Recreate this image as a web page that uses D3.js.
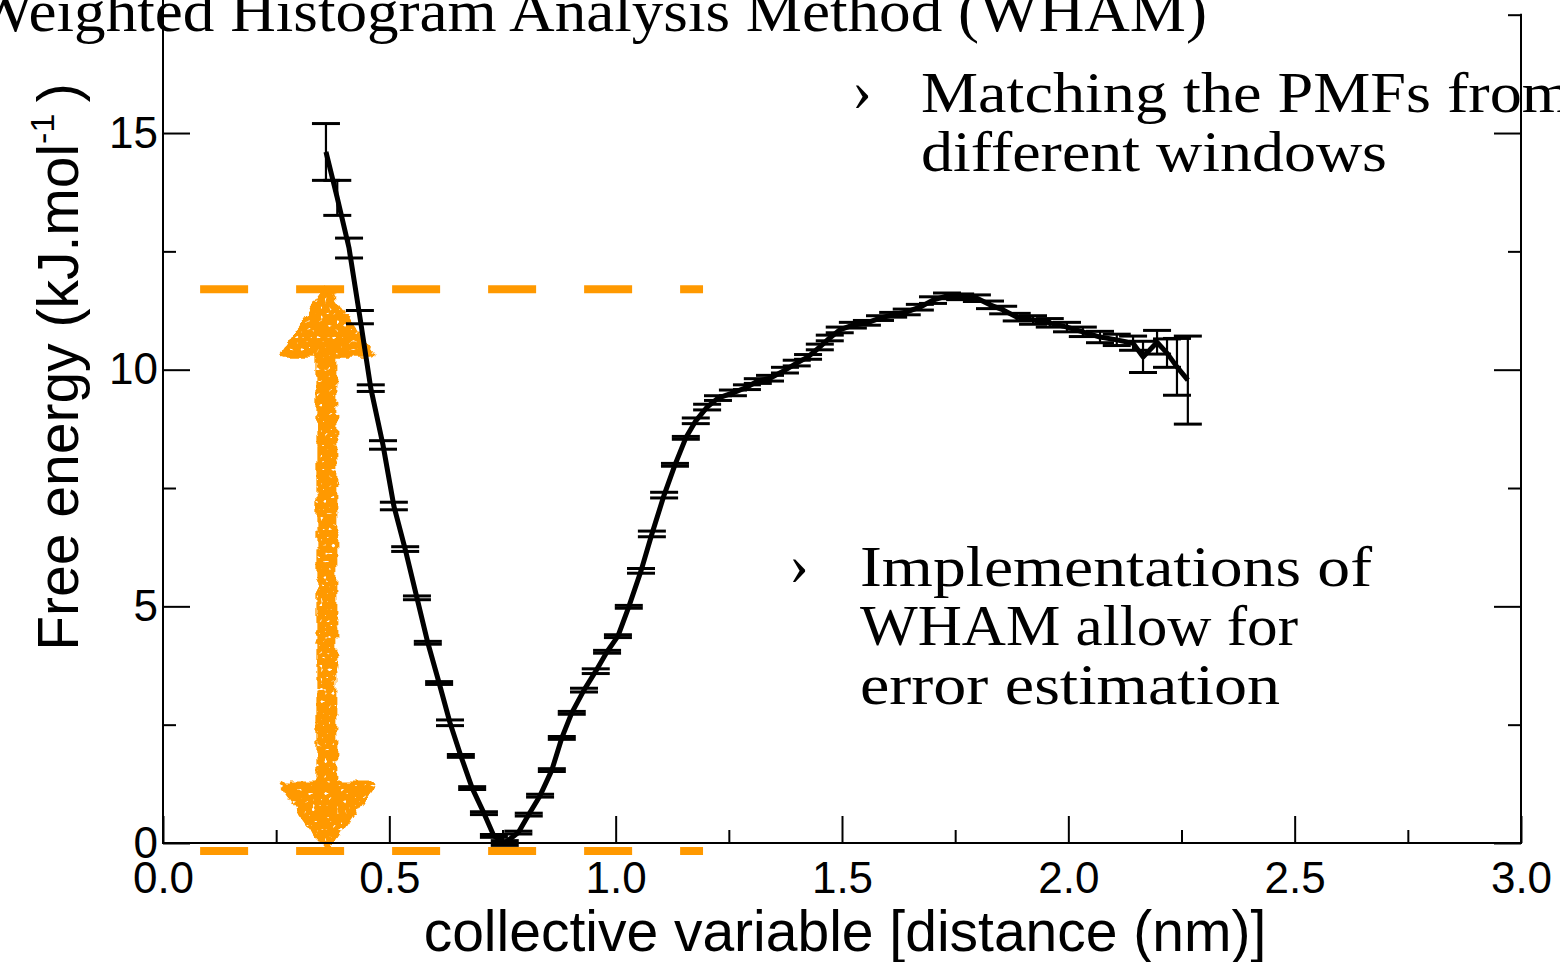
<!DOCTYPE html>
<html>
<head>
<meta charset="utf-8">
<script src="https://cdn.jsdelivr.net/npm/d3@7"></script>
<style>
  body { margin: 0; background: #fff; }
  svg { display: block; }
</style>
</head>
<body>
<svg id="chart"></svg>
<script>
// WHAM free-energy profile slide: PMF with error bars, orange guides + bullets.
const WIDTH = 1560;
const HEIGHT = 962;

// PMF along the collective variable (nm) with WHAM error estimates (kJ/mol).
const cvX = [
  0.360, 0.385, 0.411, 0.435, 0.459, 0.486, 0.510, 0.535, 0.561, 0.585,
  0.610, 0.634, 0.658, 0.683, 0.709, 0.731, 0.755, 0.785, 0.808, 0.833,
  0.859, 0.881, 0.903, 0.930, 0.956, 0.981, 1.005, 1.029, 1.056, 1.080,
  1.107, 1.131, 1.155, 1.177, 1.202, 1.226, 1.259, 1.290, 1.314, 1.341,
  1.374, 1.400, 1.425, 1.451, 1.473, 1.495, 1.524, 1.555, 1.584, 1.613,
  1.643, 1.672, 1.701, 1.732, 1.761, 1.798, 1.827, 1.856, 1.886, 1.922,
  1.959, 1.997, 2.032, 2.070, 2.107, 2.143, 2.165, 2.196, 2.218, 2.240,
  2.264,
];
const freeE = [
  14.60, 13.63, 12.57, 11.11, 9.61, 8.41, 7.12, 6.21, 5.18, 4.23,
  3.38, 2.54, 1.84, 1.16, 0.63, 0.15, 0.00, 0.22, 0.60, 1.00,
  1.54, 2.22, 2.75, 3.23, 3.63, 4.04, 4.37, 4.99, 5.75, 6.53,
  7.35, 7.99, 8.56, 8.92, 9.21, 9.40, 9.51, 9.63, 9.76, 9.82,
  9.99, 10.14, 10.27, 10.48, 10.67, 10.84, 10.94, 10.99, 11.09, 11.16,
  11.22, 11.32, 11.47, 11.56, 11.54, 11.51, 11.37, 11.26, 11.11, 11.05,
  10.99, 10.90, 10.80, 10.69, 10.63, 10.56, 10.27, 10.58, 10.35, 10.06,
  9.78,
];
const errE = [
  0.60, 0.37, 0.21, 0.14, 0.07, 0.09, 0.08, 0.05, 0.04, 0.03,
  0.03, 0.06, 0.03, 0.03, 0.03, 0.03, 0.05, 0.03, 0.03, 0.03,
  0.03, 0.03, 0.03, 0.04, 0.05, 0.03, 0.03, 0.03, 0.05, 0.06,
  0.06, 0.03, 0.03, 0.06, 0.06, 0.05, 0.06, 0.05, 0.05, 0.06,
  0.06, 0.06, 0.05, 0.06, 0.06, 0.06, 0.06, 0.05, 0.05, 0.05,
  0.06, 0.06, 0.07, 0.06, 0.06, 0.07, 0.08, 0.08, 0.08, 0.09,
  0.09, 0.10, 0.10, 0.12, 0.12, 0.15, 0.33, 0.25, 0.30, 0.60,
  0.93,
];

const xMajor = [0, 0.5, 1, 1.5, 2, 2.5, 3];
const xMinor = [0.25, 0.75, 1.25, 1.75, 2.25, 2.75];
const yMajor = [0, 5, 10, 15];
const yMinor = [2.5, 7.5, 12.5, 17.5];

// Orange annotation: barrier height guides and the double arrow (data units).
const guideLevels = [11.7, -0.17];
const guideSpan = [0.082, 1.193];
const arrowX = 0.362;
const arrowEnds = [11.7, -0.15];

const TITLE = 'Weighted Histogram Analysis Method (WHAM)';
const bullets = [
  { lines: ['Matching the PMFs from', 'different windows'], widths: [null, 466], x: 921, y: 112, mx: 852 },
  { lines: ['Implementations of', 'WHAM allow for', 'error estimation'], widths: [512, 438, 420], x: 860, y: 586, mx: 789 },
];

const ORANGE = '#ff9900';
const SERIF = '"Liberation Serif", "DejaVu Serif", serif';
const SANS = '"Liberation Sans", Arial, sans-serif';

const svg = d3.select('#chart').attr('width', WIDTH).attr('height', HEIGHT);

const x = d3.scaleLinear().domain([0, 3]).range([163, 1521]);
const y = d3.scaleLinear().domain([0, 17.5]).range([843, 14.7]);

// Rough, speckled look for the hand-drawn arrow.
const defs = svg.append('defs');
const f = defs.append('filter').attr('id', 'rough')
  .attr('x', '-30%').attr('y', '-5%').attr('width', '160%').attr('height', '110%');
f.append('feTurbulence').attr('type', 'fractalNoise').attr('baseFrequency', 0.1)
  .attr('numOctaves', 2).attr('seed', 3).attr('result', 'n');
f.append('feDisplacementMap').attr('in', 'SourceGraphic').attr('in2', 'n')
  .attr('scale', 9).attr('xChannelSelector', 'R').attr('yChannelSelector', 'G').attr('result', 'd');
f.append('feTurbulence').attr('type', 'fractalNoise').attr('baseFrequency', 0.25)
  .attr('numOctaves', 1).attr('seed', 11).attr('result', 'n2');
f.append('feColorMatrix').attr('in', 'n2').attr('type', 'matrix')
  .attr('values', '0 0 0 0 0  0 0 0 0 0  0 0 0 0 0  14 0 0 0 -3.6').attr('result', 'holes');
f.append('feComposite').attr('in', 'd').attr('in2', 'holes').attr('operator', 'in');

// Title (cut off at the top of the slide).
svg.append('text')
  .attr('x', -26).attr('y', 31)
  .attr('font-family', SERIF).attr('font-size', 60)
  .attr('textLength', 1233).attr('lengthAdjust', 'spacingAndGlyphs')
  .text(TITLE);

// Bullets
const bulletG = svg.append('g').attr('font-family', SERIF).attr('font-size', 56).attr('fill', '#000');
const measured = [];
bullets.forEach((b) => {
  bulletG.append('text').attr('x', b.mx).attr('y', b.y - 2).attr('font-size', 60).text('›');
  b.lines.forEach((line, i) => {
    const t = bulletG.append('text').attr('x', b.x).attr('y', b.y + i * 59).text(line);
    measured.push({ t, w: b.widths[i] });
  });
});
// Stretch glyphs to the reference widths; lines without a known width use the mean ratio.
const known = measured.filter((m) => m.w);
const ratio = d3.mean(known, (m) => m.w / m.t.node().getComputedTextLength());
measured.forEach((m) => {
  const w = m.w || m.t.node().getComputedTextLength() * ratio;
  m.t.attr('textLength', w).attr('lengthAdjust', 'spacingAndGlyphs');
});

// Orange guides + arrow (under the curve).
svg.append('g')
  .selectAll('line')
  .data(guideLevels)
  .join('line')
  .attr('x1', x(guideSpan[0])).attr('x2', x(guideSpan[1]))
  .attr('y1', (d) => y(d)).attr('y2', (d) => y(d))
  .attr('stroke', ORANGE).attr('stroke-width', 8)
  .attr('stroke-dasharray', '48 48');

const ax = x(arrowX);
const yt = y(arrowEnds[0]);
const yb = y(arrowEnds[1]);
const headL = 66, headW = 45, shaftW = 8;
const arrowPath = [
  [ax, yt], [ax + headW, yt + headL], [ax + shaftW, yt + headL],
  [ax + shaftW, yb - headL], [ax + headW, yb - headL], [ax, yb],
  [ax - headW, yb - headL], [ax - shaftW, yb - headL], [ax - shaftW, yt + headL],
  [ax - headW, yt + headL],
];
svg.append('path')
  .attr('d', 'M' + arrowPath.map((p) => p.join(',')).join('L') + 'Z')
  .attr('fill', ORANGE)
  .attr('stroke', ORANGE).attr('stroke-width', 5).attr('stroke-linejoin', 'round')
  .attr('filter', 'url(#rough)');

// Axes: xmgrace-style inward ticks on left, right and bottom.
const axisStyle = (g) => {
  g.select('.domain').remove();
  g.selectAll('line').attr('stroke', '#000').attr('stroke-width', 2);
  g.selectAll('text').attr('fill', '#000').attr('font-family', SANS).attr('font-size', 44);
};

svg.append('g').attr('transform', `translate(0,${y(0)})`)
  .call(d3.axisBottom(x).tickValues(xMajor).tickSize(-27).tickPadding(19).tickFormat(d3.format('.1f')))
  .call(axisStyle);
svg.append('g').attr('transform', `translate(0,${y(0)})`)
  .call(d3.axisBottom(x).tickValues(xMinor).tickSize(-13).tickFormat(''))
  .call(axisStyle);

svg.append('g').attr('transform', `translate(${x(0)},0)`)
  .call(d3.axisLeft(y).tickValues(yMajor).tickSize(-27).tickPadding(5))
  .call(axisStyle);
svg.append('g').attr('transform', `translate(${x(0)},0)`)
  .call(d3.axisLeft(y).tickValues(yMinor).tickSize(-13).tickFormat(''))
  .call(axisStyle);

svg.append('g').attr('transform', `translate(${x(3)},0)`)
  .call(d3.axisRight(y).tickValues(yMajor).tickSize(-27).tickFormat(''))
  .call(axisStyle);
svg.append('g').attr('transform', `translate(${x(3)},0)`)
  .call(d3.axisRight(y).tickValues(yMinor).tickSize(-13).tickFormat(''))
  .call(axisStyle);

// Frame lines (left runs up under the title, right stops at the top tick).
const frame = svg.append('g').attr('stroke', '#000').attr('stroke-width', 2);
frame.append('line').attr('x1', x(0)).attr('x2', x(3)).attr('y1', y(0)).attr('y2', y(0));
frame.append('line').attr('x1', x(0)).attr('x2', x(0)).attr('y1', 0).attr('y2', y(0) + 1);
frame.append('line').attr('x1', x(3)).attr('x2', x(3)).attr('y1', y(17.5) - 1).attr('y2', y(0) + 1);

// Axis titles
svg.append('text')
  .attr('x', 845).attr('y', 951)
  .attr('text-anchor', 'middle')
  .attr('font-family', SANS).attr('font-size', 57)
  .text('collective variable [distance (nm)]');

const yLab = svg.append('text')
  .attr('transform', 'translate(78,367) rotate(-90)')
  .attr('text-anchor', 'middle')
  .attr('font-family', SANS).attr('font-size', 57);
yLab.append('tspan').text('Free energy (kJ.mol');
yLab.append('tspan').attr('font-size', 34).attr('dy', -24).text('-1');
yLab.append('tspan').attr('dy', 24).text('\u2009)');

// PMF data: error bars then the curve.
const pts = cvX.map((cx, i) => ({ x: cx, v: freeE[i], e: errE[i] }));
const CAP = 14;
const eb = svg.append('g').attr('stroke', '#000');
eb.selectAll('line.bar')
  .data(pts)
  .join('line')
  .attr('class', 'bar')
  .attr('x1', (d) => x(d.x)).attr('x2', (d) => x(d.x))
  .attr('y1', (d) => y(d.v + d.e)).attr('y2', (d) => y(d.v - d.e))
  .attr('stroke-width', 2.2);
eb.selectAll('line.capTop')
  .data(pts)
  .join('line')
  .attr('class', 'capTop')
  .attr('x1', (d) => x(d.x) - CAP).attr('x2', (d) => x(d.x) + CAP)
  .attr('y1', (d) => y(d.v + d.e)).attr('y2', (d) => y(d.v + d.e))
  .attr('stroke-width', 3);
eb.selectAll('line.capBot')
  .data(pts)
  .join('line')
  .attr('class', 'capBot')
  .attr('x1', (d) => x(d.x) - CAP).attr('x2', (d) => x(d.x) + CAP)
  .attr('y1', (d) => y(d.v - d.e)).attr('y2', (d) => y(d.v - d.e))
  .attr('stroke-width', 3);

svg.append('path')
  .datum(pts)
  .attr('fill', 'none')
  .attr('stroke', '#000')
  .attr('stroke-width', 5)
  .attr('stroke-linejoin', 'round')
  .attr('d', d3.line().x((d) => x(d.x)).y((d) => y(d.v)));
</script>
</body>
</html>
